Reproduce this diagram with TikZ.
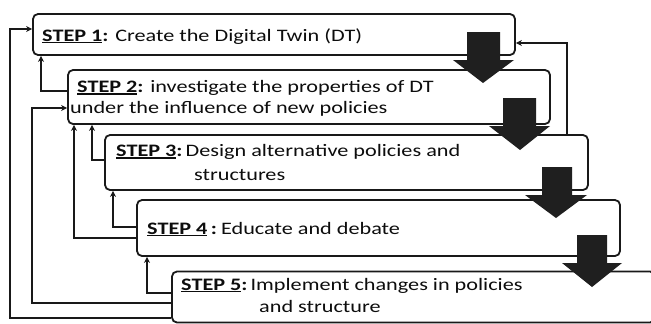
\documentclass[tikz,border=0pt]{standalone}
\usepackage{fontspec}
\setmainfont[FakeStretch=1.27]{Carlito}
\usetikzlibrary{arrows.meta}
\newcommand\stepu[1]{\setbox0=\hbox{#1}\rlap{\rule[-2.2pt]{\wd0}{1.3pt}}\box0}
\tikzset{
  box/.style={draw=black!90, line width=1.8pt, rounded corners=5pt, fill=white, inner sep=0pt},
  txt/.style={anchor=base west, inner sep=0pt, text=black!95, font=\fontsize{17.5}{21}\selectfont},
  fb/.style={draw=black!90, line width=1.3pt, -{Stealth[length=6pt,width=6pt]}},
  blk/.style={fill=black!88},
}
\begin{document}
\begin{tikzpicture}[x=1pt,y=-1pt]
\path[use as bounding box] (0,0) rectangle (651,324);
\clip (0,0) rectangle (651,324);
% boxes
\node[box, minimum width=482pt, minimum height=41pt] (b1) at (274,34.5) {};
\node[box, minimum width=482pt, minimum height=54pt] (b2) at (309,97) {};
\node[box, minimum width=483pt, minimum height=55pt] (b3) at (346.5,162.5) {};
\node[box, minimum width=483pt, minimum height=56pt] (b4) at (378.5,228) {};
\node[box, minimum width=483pt, minimum height=51pt] (b5) at (413.5,297) {};
% texts
\node[txt] (t1) at (42,41) {{\bfseries\stepu{STEP 1}:} Create the Digital Twin (DT)};
\node[txt] (t2a) at (77,92.5) {{\bfseries\stepu{STEP 2}:} investigate the properties of DT};
\node[txt] (t2b) at (70,113.5) {under the influence of new policies};
\node[txt] (t3a) at (116,156.5) {{\bfseries\stepu{STEP 3}:}\hspace{3pt}Design alternative policies and};
\node[txt] (t3b) at (194,180) {structures};
\node[txt] (t4) at (147,234) {{\bfseries\stepu{STEP 4}\hspace{3.5pt}:}\hspace{4pt}Educate and debate};
\node[txt] (t5a) at (181,290) {{\bfseries\stepu{STEP 5}:}\hspace{3pt}Implement changes in policies};
\node[txt] (t5b) at (259,312) {and structure};
% block arrows
\fill[blk] (467,32) -- (500,32) -- (500,60) -- (514,60) -- (483,83) -- (453,60) -- (467,60) -- cycle;
\fill[blk] (503,98) -- (536,98) -- (536,126) -- (550,126) -- (520,150) -- (489,126) -- (503,126) -- cycle;
\fill[blk] (542,167) -- (572,167) -- (572,195) -- (587,195) -- (556,218) -- (525,195) -- (542,195) -- cycle;
\fill[blk] (577,235) -- (607,235) -- (607,263) -- (622,263) -- (592,287) -- (562,263) -- (577,263) -- cycle;
% feedback connectors
\draw[fb] (b2.west |- 0,91) -| (b1.south -| 41,0);
\draw[fb] (b3.west |- 0,160) -| (b2.south -| 92,0);
\draw[fb] (b4.west |- 0,227) -| (b3.south -| 113,0);
\draw[fb] (b5.west |- 0,293) -| (b4.south -| 147,0);
\draw[fb] (b4.west |- 0,238) -| (b2.south -| 74,0);
\draw[fb] (b5.west |- 0,303) -| (32,108) -- (b2.west |- 0,108);
\draw[fb] (b5.west |- 0,318) -| (10,29) -- (b1.west |- 0,29);
\draw[fb] (b3.north -| 567,0) |- (b1.east |- 0,43);
\end{tikzpicture}
\end{document}
